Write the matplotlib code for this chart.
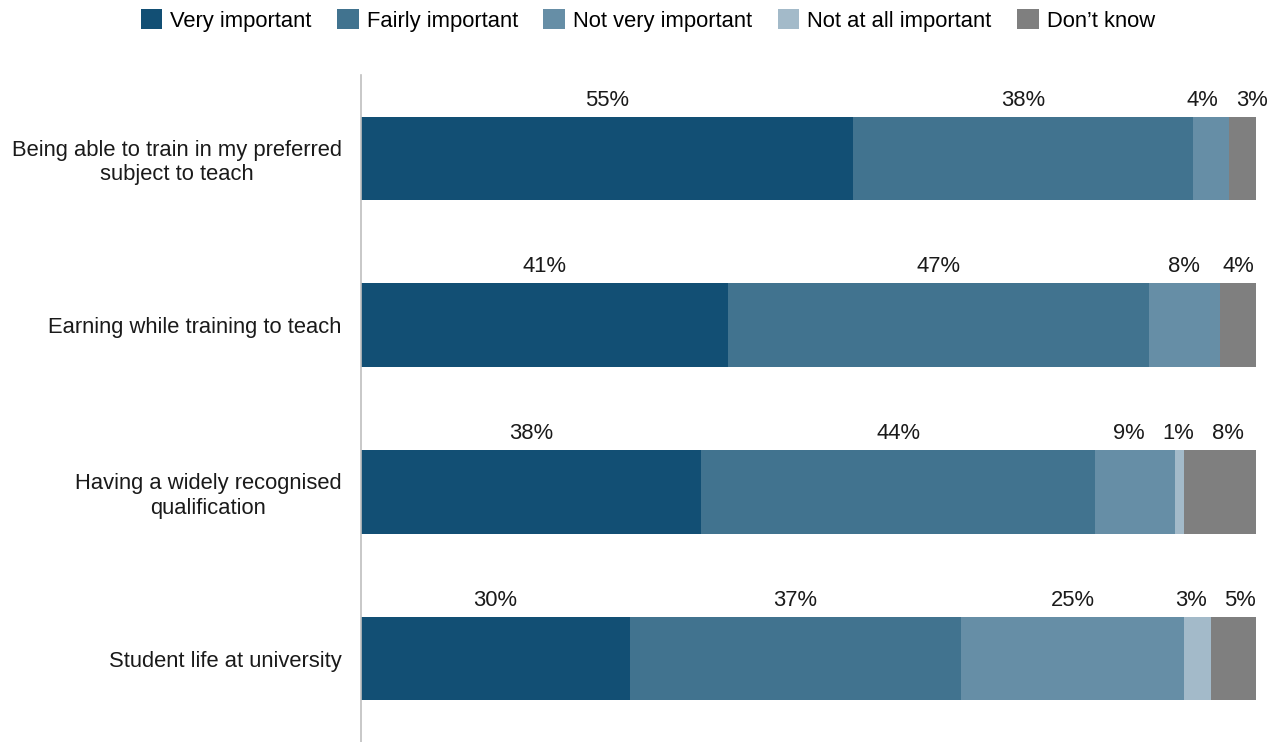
import numpy as np
import matplotlib.pyplot as plt
from matplotlib.patches import Patch

plt.rcParams["font.family"] = ["Liberation Sans", "DejaVu Sans"]

# Survey data (percent of respondents)
categories = [
    "Being able to train in my preferred\nsubject to teach",
    "Earning while training to teach",
    "Having a widely recognised\nqualification",
    "Student life at university",
]
responses = ["Very important", "Fairly important", "Not very important",
             "Not at all important", "Don\u2019t know"]
very_important = [55, 41, 38, 30]
fairly_important = [38, 47, 44, 37]
not_very_important = [4, 8, 9, 25]
not_at_all_important = [0, 0, 1, 3]
dont_know = [3, 4, 8, 5]

colors = ["#124F74", "#41738F", "#668EA6", "#A3BAC9", "#7F7F7F"]
MIN_LABEL_GAP = 5.5  # in percent units, keeps small-segment labels apart
FONT_SIZE = 15.8

series = [very_important, fairly_important, not_very_important,
          not_at_all_important, dont_know]


def spread_labels(xs, gap):
    # push neighbouring label positions apart until they are at least `gap` apart
    xs = list(xs)
    for _ in range(50):
        moved = False
        for i in range(len(xs) - 1):
            d = xs[i + 1] - xs[i]
            if d < gap - 1e-6:
                shift = (gap - d) / 2
                xs[i] -= shift
                xs[i + 1] += shift
                moved = True
        if not moved:
            break
    return xs


fig = plt.figure(figsize=(12.8, 7.42), dpi=100)
ax = fig.add_axes([361 / 1280, 0.0, (1256 - 361) / 1280, 1 - 75 / 742])

y = np.arange(len(categories))
left = np.zeros(len(categories))
label_pos = [[] for _ in categories]
for vals, color in zip(series, colors):
    vals = np.array(vals, dtype=float)
    ax.barh(y, vals, left=left, height=0.5, color=color, edgecolor="none")
    for yi, (l, v) in enumerate(zip(left, vals)):
        if v > 0:
            label_pos[yi].append((l + v / 2, v))
    left += vals

for yi, items in enumerate(label_pos):
    xs = spread_labels([x for x, _ in items], MIN_LABEL_GAP)
    for x, (_, v) in zip(xs, items):
        ax.text(x, yi - 0.35, f"{v:.0f}%", ha="center", va="center",
                fontsize=FONT_SIZE, color="#1a1a1a")

ax.set_xlim(0, 100)
ax.set_ylim(3.5, -0.5)
ax.set_yticks(y)
ax.set_yticklabels(categories, fontsize=FONT_SIZE, color="#1a1a1a",
                   multialignment="center")
ax.tick_params(axis="y", length=0, pad=14)
ax.set_xticks([])
for side in ["top", "right", "bottom"]:
    ax.spines[side].set_visible(False)
ax.spines["left"].set_color("#BFBFBF")
ax.spines["left"].set_linewidth(1.2)

handles = [Patch(facecolor=c, edgecolor="none") for c in colors]
fig.legend(handles, responses, loc="upper center", bbox_to_anchor=(0.506, 1.014),
           ncol=5, frameon=False, fontsize=FONT_SIZE, handlelength=1.0,
           handleheight=1.0, handletextpad=0.36, columnspacing=1.15)

fig.savefig("out.png", dpi=100)
